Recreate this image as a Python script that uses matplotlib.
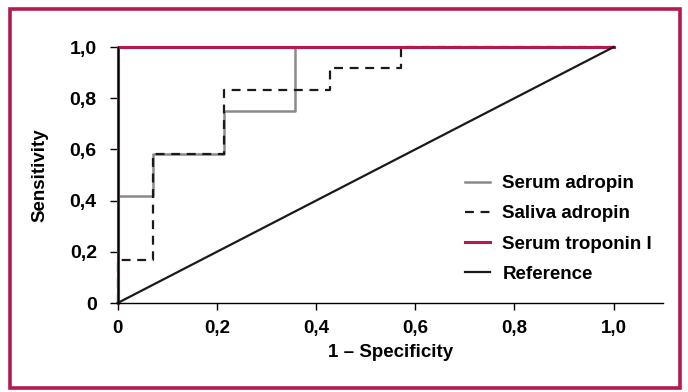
import matplotlib.pyplot as plt
from matplotlib.patches import Rectangle

plt.rcParams['font.family'] = ['Liberation Sans', 'DejaVu Sans']
plt.rcParams['font.weight'] = 'bold'

# ROC curves (1 - specificity, sensitivity)
serum_x = [0, 0, 1/14, 1/14, 3/14, 3/14, 5/14, 5/14, 1.0]
serum_y = [0, 5/12, 5/12, 7/12, 7/12, 9/12, 9/12, 1.0, 1.0]

saliva_x = [0, 0, 1/14, 1/14, 3/14, 3/14, 6/14, 6/14, 8/14, 8/14, 1.0]
saliva_y = [0, 2/12, 2/12, 7/12, 7/12, 10/12, 10/12, 11/12, 11/12, 1.0, 1.0]

troponin_x = [0, 0, 1.0]
troponin_y = [0, 1.0, 1.0]

ref_x = [0, 1.0]
ref_y = [0, 1.0]

ticks = [0, 0.2, 0.4, 0.6, 0.8, 1.0]
tick_labels = ['0', '0,2', '0,4', '0,6', '0,8', '1,0']

crimson = '#b51a4c'

fig = plt.figure(figsize=(6.88, 3.92), dpi=100)
# frame around the figure
fig.patches.append(Rectangle((0.0145, 0.01), 0.974, 0.966, transform=fig.transFigure,
                             fill=False, edgecolor=crimson, linewidth=2.6))

ax = fig.add_axes([0.171, 0.227, 0.793, 0.653])

ax.plot(serum_x, serum_y, color='#8a8a8a', lw=1.8, label='Serum adropin', clip_on=False)
ax.plot(saliva_x, saliva_y, color='#1a1a1a', lw=1.6, ls=(0, (4, 3)), label='Saliva adropin', clip_on=False)
ax.plot(troponin_x, troponin_y, color=crimson, lw=2.2, label='Serum troponin I', clip_on=False)
ax.plot(ref_x, ref_y, color='#1a1a1a', lw=1.6, label='Reference', clip_on=False)

ax.set_xlim(0, 1.1)
ax.set_ylim(0, 1.0)
ax.set_xticks(ticks)
ax.set_xticklabels(tick_labels, fontsize=13.5, fontweight='bold')
ax.set_yticks(ticks)
ax.set_yticklabels(tick_labels, fontsize=14, fontweight='bold')
ax.tick_params(axis='x', length=5, width=1, direction='out', pad=7)
ax.tick_params(axis='y', length=6, width=1, direction='out', pad=9)

for s in ['top', 'right']:
    ax.spines[s].set_visible(False)
for s in ['left', 'bottom']:
    ax.spines[s].set_linewidth(1)

ax.set_xlabel('1 \u2013 Specificity', fontsize=13.5, fontweight='bold')
ax.xaxis.set_label_coords(0.5, -0.16)
ax.set_ylabel('Sensitivity', fontsize=13.5, fontweight='bold')
ax.yaxis.set_label_coords(-0.126, 0.5)

leg = ax.legend(loc='upper left', bbox_to_anchor=(0.606, 0.565), frameon=False,
                handlelength=1.32, labelspacing=0.69, handletextpad=0.67,
                prop={'size': 13.5, 'weight': 'bold'})

fig.savefig('out.png', dpi=100)
